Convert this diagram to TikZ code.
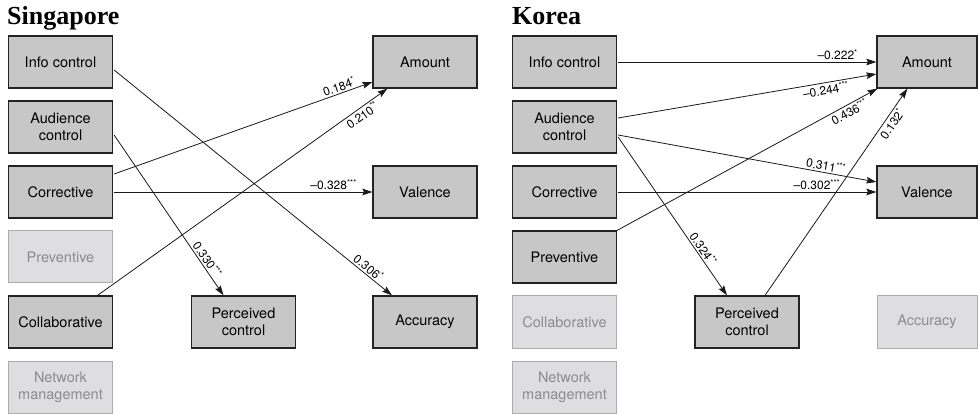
\documentclass[tikz,border=0pt]{standalone}
\usepackage{fontspec}
\setmainfont{TeX Gyre Heros}
\newfontfamily\titlefont{Liberation Serif}
\usetikzlibrary{arrows.meta,calc}
\definecolor{darkfill}{RGB}{199,199,199}
\definecolor{darkline}{RGB}{35,35,35}
\definecolor{lightfill}{RGB}{222,222,224}
\definecolor{lightline}{RGB}{172,172,174}
\definecolor{lighttext}{RGB}{140,140,140}
\definecolor{ink}{RGB}{25,25,25}
\begin{document}
\begin{tikzpicture}[x=1pt,y=-1pt,
  box/.style={rectangle, minimum width=104pt, minimum height=52pt, inner sep=0pt,
    align=center, font=\fontsize{14.5}{17}\selectfont},
  darkbox/.style={box, fill=darkfill, draw=darkline, line width=1.2pt, text=black},
  lightbox/.style={box, fill=lightfill, draw=lightline, line width=1pt, text=lighttext},
  narrow/.style={minimum width=100pt},
  conn/.style={draw=ink, line width=0.8pt, -{Stealth[length=10pt,width=6.5pt,inset=1.5pt]}},
  lab/.style={font=\fontsize{12}{12}\selectfont, sloped, inner sep=1.5pt, text=black},
  ttl/.style={font=\titlefont\bfseries\fontsize{26}{26}\selectfont, anchor=base west, inner sep=0pt}]
\useasboundingbox (0,0) rectangle (978,414);
% Titles
\node[ttl] (tsg) at (7,25) {Singapore};
\node[ttl] (tkr) at (512,25) {Korea};
% Singapore nodes
\node[darkbox] (sic) at (60.5,62) {Info control};
\node[darkbox] (sac) at (60.5,127) {Audience\\control};
\node[darkbox] (scor) at (60.5,192) {Corrective};
\node[lightbox] (sprev) at (60.5,257) {Preventive};
\node[darkbox] (scol) at (60.5,322) {Collaborative};
\node[lightbox] (snet) at (60.5,387) {Network\\management};
\node[darkbox] (spc) at (243.5,322) {Perceived\\control};
\node[darkbox] (samt) at (425,62) {Amount};
\node[darkbox] (sval) at (425,192) {Valence};
\node[darkbox] (sacc) at (425,322) {Accuracy};
% Korea nodes
\node[darkbox] (kic) at (564.5,62) {Info control};
\node[darkbox] (kac) at (564.5,127) {Audience\\control};
\node[darkbox] (kcor) at (564.5,192) {Corrective};
\node[darkbox] (kprev) at (564.5,257) {Preventive};
\node[lightbox] (kcol) at (564.5,322) {Collaborative};
\node[lightbox] (knet) at (564.5,387) {Network\\management};
\node[darkbox] (kpc) at (747,322) {Perceived\\control};
\node[darkbox, narrow] (kamt) at (927,62) {Amount};
\node[darkbox, narrow] (kval) at (927,192) {Valence};
\node[lightbox, narrow] (kacc) at (927,322) {Accuracy};
% Singapore connectors
\draw[conn] ($(sic.east)+(1,8)$) -- node[lab, pos=0.9, above] {0.306\textsuperscript{*}} ($(sacc.north)+(-33,0)$);
\draw[conn] ($(sac.east)+(1,8)$) -- node[lab, pos=0.8, above] {0.330\textsuperscript{***}} ($(spc.north)+(-20,0)$);
\draw[conn] ($(scor.east)+(1,-18)$) -- node[lab, pos=0.88, above] {0.184\textsuperscript{*}} ($(samt.west)+(0,20)$);
\draw[conn] ($(scol.north)+(37,0)$) -- node[lab, pos=0.9, below] {0.210\textsuperscript{**}} ($(samt.south west)+(15,0)$);
\draw[conn] ($(scor.east)+(1,0)$) -- node[lab, pos=0.85, above] {–0.328\textsuperscript{***}} (sval.west);
% Korea connectors
\draw[conn] ($(kic.east)+(1,0)$) -- node[lab, pos=0.85, above] {–0.222\textsuperscript{*}} (kamt.west);
\draw[conn] ($(kac.east)+(1,-9)$) -- node[lab, pos=0.8, below] {–0.244\textsuperscript{***}} ($(kamt.west)+(0,12)$);
\draw[conn] ($(kac.east)+(1,8)$) -- node[lab, pos=0.8, above] {0.311\textsuperscript{***}} ($(kval.west)+(0,-10)$);
\draw[conn] ($(kcor.east)+(1,0)$) -- node[lab, pos=0.77, above] {–0.302\textsuperscript{***}} (kval.west);
\draw[conn] ($(kac.east)+(1,10)$) -- node[lab, pos=0.73, above] {0.324\textsuperscript{**}} ($(kpc.north)+(-20,0)$);
\draw[conn] (kprev.north east) -- node[lab, pos=0.88, below] {0.436\textsuperscript{***}} ($(kamt.south west)+(1,0)$);
\draw[conn] ($(kpc.north)+(18,0)$) -- node[lab, pos=0.85, below] {0.132\textsuperscript{*}} ($(kamt.south west)+(31,0)$);
\end{tikzpicture}
\end{document}
